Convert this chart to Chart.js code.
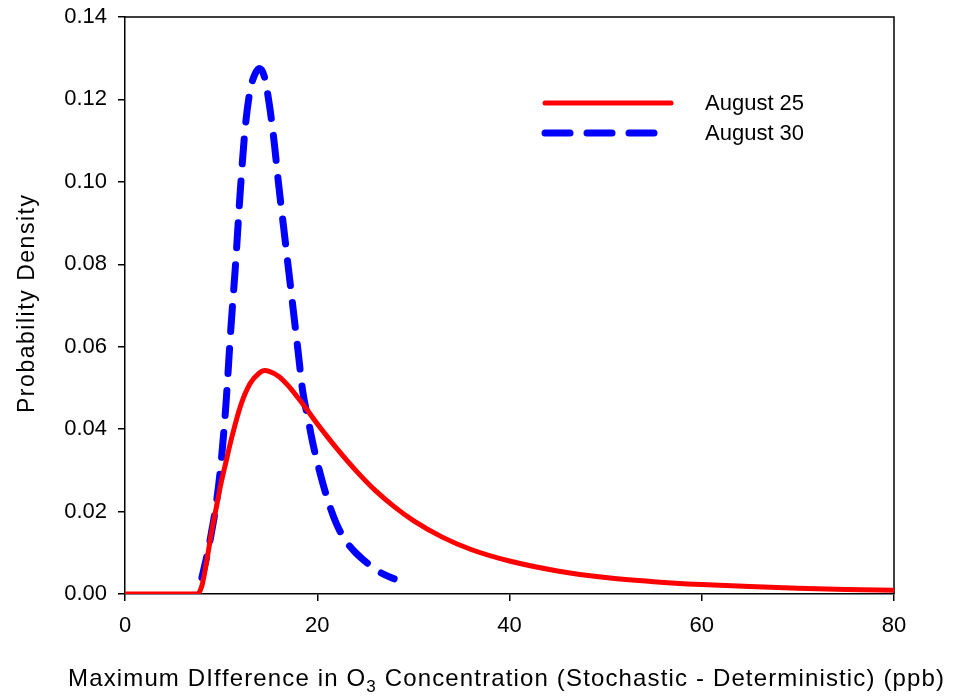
<!DOCTYPE html>
<html><head><meta charset="utf-8">
<script src="https://cdn.jsdelivr.net/npm/chart.js@4"></script>
<style>html,body{margin:0;padding:0;background:#fff}</style>
</head><body>
<canvas id="c" width="956" height="700"></canvas>
<script>
// ---- data ----
const aug25X = [0, 7.5, 8, 8.5, 9, 9.5, 10, 10.5, 11, 12, 13, 14, 14.5, 15, 16, 17, 18, 19, 20, 21, 22, 24, 26, 28, 30, 33, 36, 40, 45, 50, 55, 60, 65, 70, 75, 80];
const aug25Y = [0, 0, 0.002, 0.008, 0.015, 0.021, 0.027, 0.032, 0.037, 0.0455, 0.0510, 0.0537, 0.0542, 0.0540, 0.0528, 0.0505, 0.0476, 0.0445, 0.0413, 0.0383, 0.0354, 0.0300, 0.0252, 0.0212, 0.0178, 0.0138, 0.0108, 0.0080, 0.0056, 0.0040, 0.0030, 0.0023, 0.0018, 0.0014, 0.0011, 0.0009];
const aug30X = [8, 8.5, 9, 9.5, 10, 10.5, 11, 11.5, 12, 12.5, 13, 13.5, 14, 14.5, 15, 15.5, 16, 16.5, 17, 17.5, 18, 18.5, 19, 19.5, 20, 21, 22, 23, 24, 25, 26, 27, 28];
const aug30Y = [0.004, 0.009, 0.015, 0.022, 0.032, 0.046, 0.064, 0.080, 0.098, 0.113, 0.122, 0.126, 0.1275, 0.1255, 0.119, 0.110, 0.099, 0.089, 0.079, 0.069, 0.059, 0.049, 0.043, 0.037, 0.032, 0.0235, 0.017, 0.0128, 0.0100, 0.0079, 0.0060, 0.0047, 0.0037];
const seriesLabels = ['August 25', 'August 30'];
const xTicks = [0, 20, 40, 60, 80];
const yTicks = [0, 0.02, 0.04, 0.06, 0.08, 0.10, 0.12, 0.14];
const xTitleParts = ['Maximum DIfference in O', '3', ' Concentration (Stochastic - Deterministic) (ppb)'];
const yTitle = 'Probability Density';

const FONT = '"Liberation Sans", Arial, Helvetica, sans-serif';

function spacedRun(ctx, segments, x0, y0, totalLen) {
  let natural = 0, n = 0;
  segments.forEach(s => { ctx.font = s.font; for (const ch of s.text) { natural += ctx.measureText(ch).width; n++; } });
  const sp = (totalLen - natural) / Math.max(1, n - 1);
  let x = x0;
  segments.forEach(s => {
    ctx.font = s.font;
    for (const ch of s.text) { ctx.fillText(ch, x, y0 + (s.dy || 0)); x += ctx.measureText(ch).width + sp; }
  });
}

const framePlugin = {
  id: 'frame',
  beforeDatasetsDraw(chart) {
    const {ctx, chartArea: a} = chart;
    ctx.save();
    ctx.strokeStyle = '#000';
    ctx.lineWidth = 1.5;
    ctx.beginPath();
    ctx.moveTo(a.left, a.top); ctx.lineTo(a.right, a.top); ctx.lineTo(a.right, a.bottom);
    ctx.stroke();
    ctx.restore();
  },
  afterDraw(chart) {
    const {ctx} = chart;
    ctx.save();
    ctx.fillStyle = '#000';
    ctx.textBaseline = 'alphabetic';
    ctx.textAlign = 'left';
    spacedRun(ctx, [
      {text: xTitleParts[0], font: '24px ' + FONT},
      {text: xTitleParts[1], font: '17px ' + FONT, dy: 6},
      {text: xTitleParts[2], font: '24px ' + FONT}
    ], 68, 686, 876);
    ctx.translate(34, 413);
    ctx.rotate(-Math.PI / 2);
    spacedRun(ctx, [{text: yTitle, font: '23px ' + FONT}], 0, 0, 218);
    ctx.restore();
  }
};

const legendPlugin = {
  id: 'customLegend',
  afterDatasetsDraw(chart) {
    const {ctx} = chart;
    const rows = [{y: 103, x1: 545, x2: 671}, {y: 133, x1: 545, x2: 654}];
    ctx.save();
    chart.data.datasets.forEach((ds, i) => {
      const r = rows[i];
      ctx.strokeStyle = ds.borderColor;
      ctx.lineWidth = ds.borderWidth;
      ctx.lineCap = 'round';
      ctx.setLineDash(ds.borderDash || []);
      ctx.beginPath(); ctx.moveTo(r.x1, r.y); ctx.lineTo(r.x2, r.y); ctx.stroke();
      ctx.setLineDash([]);
      ctx.fillStyle = '#000';
      ctx.font = '22px ' + FONT;
      ctx.textBaseline = 'middle';
      ctx.textAlign = 'left';
      ctx.fillText(ds.label, 705, r.y + 1);
    });
    ctx.restore();
  }
};

new Chart(document.getElementById('c'), {
  type: 'line',
  data: {
    datasets: [
      {
        label: seriesLabels[0],
        data: aug25X.map((x, i) => ({x, y: aug25Y[i]})),
        borderColor: '#ff0000', borderWidth: 5, pointRadius: 0,
        cubicInterpolationMode: 'monotone', borderCapStyle: 'round', borderJoinStyle: 'round', fill: false
      },
      {
        label: seriesLabels[1],
        data: aug30X.map((x, i) => ({x, y: aug30Y[i]})),
        borderColor: '#0000ff', borderWidth: 7, pointRadius: 0, borderDash: [25, 17], borderDashOffset: 4,
        cubicInterpolationMode: 'monotone', borderCapStyle: 'round', borderJoinStyle: 'round', fill: false
      }
    ]
  },
  options: {
    responsive: false,
    animation: false,
    events: [],
    layout: {padding: {left: 0, right: 62, top: 17, bottom: 0}},
    plugins: {legend: {display: false}, tooltip: {enabled: false}},
    scales: {
      x: {
        type: 'linear', min: 0, max: 80,
        afterFit(s) { s.height = 106; s.paddingLeft = 0; s.paddingRight = 0; },
        afterBuildTicks(s) { s.ticks = xTicks.map(v => ({value: v})); },
        grid: {drawOnChartArea: false, color: '#000', tickLength: 7, lineWidth: 1.5},
        border: {color: '#000', width: 1.5},
        ticks: {color: '#000', font: {family: FONT, size: 22}, padding: 12, maxRotation: 0, autoSkip: false}
      },
      y: {
        type: 'linear', min: 0, max: 0.14,
        afterFit(s) { s.width = 125; s.paddingTop = 0; s.paddingBottom = 0; },
        afterBuildTicks(s) { s.ticks = yTicks.map(v => ({value: v})); },
        grid: {drawOnChartArea: false, color: '#000', tickLength: 7, lineWidth: 1.5},
        border: {color: '#000', width: 1.5},
        ticks: {color: '#000', font: {family: FONT, size: 22}, padding: 11, autoSkip: false,
                callback: v => Number(v).toFixed(2)}
      }
    }
  },
  plugins: [framePlugin, legendPlugin]
});
</script>
</body></html>
